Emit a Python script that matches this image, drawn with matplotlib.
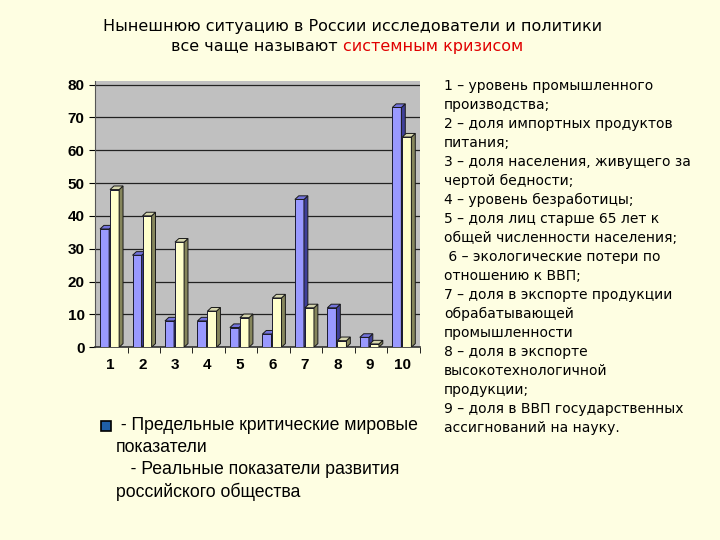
import matplotlib.pyplot as plt
from matplotlib.patches import Polygon
import numpy as np

categories = ["1", "2", "3", "4", "5", "6", "7", "8", "9", "10"]
world_vals = [36, 28, 8, 8, 6, 4, 45, 12, 3, 73]
russia_vals = [48, 40, 32, 11, 9, 15, 12, 2, 1, 64]
y_ticks = [0, 10, 20, 30, 40, 50, 60, 70, 80]

title_line1 = "Нынешнюю ситуацию в России исследователи и политики"
title_line2a = "все чаще называют "
title_line2b = "системным кризисом"

legend_lines = [
    " - Предельные критические мировые",
    "показатели",
    "   - Реальные показатели развития",
    "российского общества",
]

notes = [
    "1 – уровень промышленного",
    "производства;",
    "2 – доля импортных продуктов",
    "питания;",
    "3 – доля населения, живущего за",
    "чертой бедности;",
    "4 – уровень безработицы;",
    "5 – доля лиц старше 65 лет к",
    "общей численности населения;",
    " 6 – экологические потери по",
    "отношению к ВВП;",
    "7 – доля в экспорте продукции",
    "обрабатывающей",
    "промышленности",
    "8 – доля в экспорте",
    "высокотехнологичной",
    "продукции;",
    "9 – доля в ВВП государственных",
    "ассигнований на науку.",
]

BG = "#fefee2"
plt.rcParams['font.family'] = ['DejaVu Sans']

fig = plt.figure(figsize=(7.2, 5.4), dpi=100, facecolor=BG)
ax = fig.add_axes([0.132, 0.357, 0.451, 0.4926])
ax.set_facecolor("#c0c0c0")

x = np.arange(len(categories))
w = 0.28
dx = 0.12
dy = 1.1


def bar3d(x0, h, front, side, top):
    ax.bar(x0, h, width=w, align='edge', color=front, edgecolor="#1a1a30",
           linewidth=0.7, zorder=3)
    ax.add_patch(Polygon([(x0 + w, 0), (x0 + w + dx, dy), (x0 + w + dx, h + dy), (x0 + w, h)],
                         closed=True, facecolor=side, edgecolor="#1a1a1a", linewidth=0.7, zorder=3))
    ax.add_patch(Polygon([(x0, h), (x0 + dx, h + dy), (x0 + w + dx, h + dy), (x0 + w, h)],
                         closed=True, facecolor=top, edgecolor="#1a1a1a", linewidth=0.7, zorder=3))


for i in range(len(categories)):
    bar3d(x[i] - 0.346, world_vals[i], "#9999ff", "#3f3f99", "#7373dd")
    bar3d(x[i] - 0.038, russia_vals[i], "#ffffcc", "#86865c", "#d6d6ae")

ax.set_xlim(-0.5, len(categories) - 0.5)
ax.set_ylim(0, 81)
ax.set_yticks(y_ticks)
ax.set_yticklabels([str(v) for v in y_ticks], fontsize=11, fontweight='bold',
                   family='Liberation Sans')
ax.yaxis.grid(True, color="#222222", linewidth=0.9, zorder=1)
ax.set_axisbelow(True)
ax.set_xticks(x - 0.04)
ax.set_xticklabels(categories, fontsize=11, fontweight='bold', family='Liberation Sans')
ax.set_xticks(np.arange(len(categories)) + 0.5, minor=True)
ax.tick_params(axis='x', which='major', length=0, pad=8)
ax.tick_params(axis='x', which='minor', length=4, direction='out')
ax.tick_params(axis='y', length=4, direction='out')
for s in ['top', 'right']:
    ax.spines[s].set_visible(False)
ax.spines['left'].set_color("#555555")
ax.spines['bottom'].set_color("#333333")
ax.spines['bottom'].set_linewidth(1.2)

# title
fig.text(0.489, 1 - 27 / 540, title_line1, ha='center', va='center', fontsize=11.5)
fig.canvas.draw()
r = fig.canvas.get_renderer()
ta = fig.text(0, 1 - 46 / 540, title_line2a, ha='left', va='center', fontsize=11.5)
tb = fig.text(0, 1 - 46 / 540, title_line2b, ha='left', va='center', fontsize=11.5,
              color="#e00000")
wa = ta.get_window_extent(r).width
wb = tb.get_window_extent(r).width
cx = 0.482 * 720
ta.set_x((cx - (wa + wb) / 2) / 720)
tb.set_x((cx - (wa + wb) / 2 + wa) / 720)

# legend
fig.patches.append(plt.Rectangle((101 / 720, 1 - 431 / 540), 10 / 720, 10 / 540,
                                 transform=fig.transFigure, facecolor="#1f5fa8",
                                 edgecolor="black", linewidth=1.2))
for k, line in enumerate(legend_lines):
    fig.text(116 / 720, 1 - (426 + 21.8 * k) / 540, line, ha='left', va='center',
             fontsize=12.7, family='Liberation Sans')

# notes
fig.text(444 / 720, 1 - 79 / 540, "\n".join(notes), ha='left', va='top', fontsize=10,
         linespacing=1.455)

fig.savefig("out.png", dpi=100, facecolor=BG)
